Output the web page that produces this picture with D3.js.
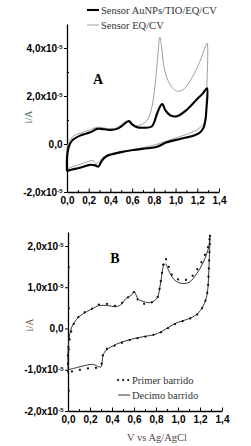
<!DOCTYPE html>
<html>
<head>
<meta charset="utf-8">
<script src="https://cdn.jsdelivr.net/npm/d3@7"></script>
<style>
  body { margin: 0; background: #fff; }
  .tick text { font-family: "Liberation Sans", Arial, sans-serif; font-weight: bold; font-size: 10px; fill: #000; }
  .serif { font-family: "Liberation Serif", "Times New Roman", serif; }
</style>
</head>
<body>
<div id="chart"></div>
<script>

// currents are in units of 1e-5 A, potentials in V vs Ag/AgCl

// panel A, Sensor AuNPs/TIO/EQ/CV
var aunpsV = [0, 0, 0.015, 0.046, 0.12, 0.215, 0.276, 0.31, 0.40, 0.46, 0.51, 0.57, 0.60, 0.645, 0.705, 0.78, 0.83, 0.865, 0.88, 0.905, 0.95, 1.01, 1.10, 1.19, 1.25, 1.29,
  1.285, 1.275, 1.26, 1.23, 1.17, 1.04, 0.92, 0.83, 0.74, 0.61, 0.49, 0.37, 0.32, 0.29, 0.26, 0.21, 0.12, 0.03, 0];
var aunpsI = [-1.13, -0.56, -0.14, 0.14, 0.35, 0.49, 0.63, 0.63, 0.59, 0.63, 0.77, 0.96, 0.82, 0.70, 0.68, 0.73, 1.27, 1.62, 1.66, 1.41, 1.2, 1.15, 1.41, 1.83, 2.1, 2.32,
  1.5, 1.0, 0.7, 0.5, 0.35, 0.21, 0.07, -0.11, -0.18, -0.25, -0.35, -0.49, -0.70, -0.94, -0.89, -0.87, -0.99, -1.08, -1.13];

// panel A, Sensor EQ/CV
var eqV = [0, 0, 0.015, 0.05, 0.12, 0.215, 0.276, 0.33, 0.40, 0.46, 0.52, 0.545, 0.58, 0.62, 0.68, 0.74, 0.78, 0.81, 0.835, 0.855, 0.87, 0.89, 0.92, 0.97, 1.02, 1.08, 1.15, 1.22, 1.27, 1.29,
  1.285, 1.275, 1.25, 1.2, 1.1, 1.0, 0.9, 0.8, 0.7, 0.6, 0.5, 0.4, 0.33, 0.3, 0.27, 0.24, 0.2, 0.12, 0.05, 0];
var eqI = [-1.05, -0.3, 0.07, 0.3, 0.45, 0.6, 0.7, 0.68, 0.62, 0.68, 0.88, 0.95, 0.85, 0.78, 0.8, 1.0, 1.5, 2.4, 3.6, 4.45, 4.1, 3.3, 2.75, 2.35, 2.2, 2.3, 2.75, 3.4, 4.0, 4.2,
  2.0, 1.1, 0.8, 0.6, 0.4, 0.25, 0.1, -0.05, -0.15, -0.25, -0.3, -0.45, -0.55, -0.72, -0.82, -0.7, -0.72, -0.85, -0.95, -1.05];

// panel B, Primer barrido
var primerV = [0, 0, 0.02, 0.05, 0.11, 0.17, 0.23, 0.27, 0.35, 0.44, 0.49, 0.52, 0.58, 0.60, 0.64, 0.69, 0.75, 0.81, 0.84, 0.87, 0.885, 0.915, 0.96, 1.02, 1.1, 1.17, 1.23, 1.28, 1.29,
  1.28, 1.265, 1.23, 1.17, 1.08, 0.99, 0.915, 0.84, 0.78, 0.66, 0.56, 0.44, 0.35, 0.32, 0.30, 0.28, 0.23, 0.15, 0.076, 0];
var primerI = [-1.05, -0.6, -0.2, 0.1, 0.32, 0.42, 0.5, 0.57, 0.6, 0.55, 0.62, 0.72, 0.8, 0.88, 0.68, 0.6, 0.62, 0.74, 1.1, 1.6, 1.7, 1.5, 1.25, 1.18, 1.2, 1.42, 1.7, 2.05, 2.3,
  1.45, 0.85, 0.55, 0.33, 0.21, 0.13, 0.02, -0.1, -0.15, -0.22, -0.28, -0.4, -0.5, -0.62, -0.9, -0.95, -0.95, -0.98, -1.02, -1.06];

// panel B, Decimo barrido
var decimoV = [0, 0, 0.015, 0.046, 0.107, 0.17, 0.23, 0.27, 0.35, 0.44, 0.49, 0.52, 0.58, 0.60, 0.64, 0.69, 0.75, 0.81, 0.84, 0.87, 0.885, 0.915, 0.96, 1.02, 1.1, 1.17, 1.23, 1.28, 1.29,
  1.28, 1.265, 1.23, 1.17, 1.08, 0.99, 0.915, 0.84, 0.78, 0.66, 0.56, 0.44, 0.35, 0.32, 0.30, 0.28, 0.23, 0.15, 0.076, 0];
var decimoI = [-1.0, -0.56, -0.15, 0.1, 0.3, 0.41, 0.49, 0.55, 0.56, 0.53, 0.6, 0.71, 0.82, 0.9, 0.71, 0.65, 0.63, 0.74, 1.08, 1.53, 1.57, 1.41, 1.2, 1.1, 1.12, 1.33, 1.61, 1.98, 2.27,
  1.41, 0.84, 0.55, 0.34, 0.22, 0.14, 0.03, -0.09, -0.15, -0.21, -0.27, -0.38, -0.52, -0.64, -0.93, -0.93, -0.87, -0.9, -0.95, -1.0];

// tick values
var xTicks = [0, 0.2, 0.4, 0.6, 0.8, 1.0, 1.2, 1.4];
var yTicksA = [-2, 0, 2, 4];
var yTicksB = [-2, -1, 0, 1, 2];

var svgWidth = 251;
var svgHeight = 446;

var svg = d3.select("#chart")
  .append("svg")
  .attr("width", svgWidth)
  .attr("height", svgHeight);

// label like "2,0x10" with a small "-5" on top, zero stays "0,0"
function sciLabel(sel) {
  sel.each(function (d) {
    var t = d3.select(this);
    t.text(null);
    if (d === 0) {
      t.text("0,0");
    } else {
      t.append("tspan").text(d.toFixed(1).replace(".", ",") + "x10");
      t.append("tspan").attr("dy", "-0.45em").style("font-size", "6px").text("-5");
    }
  });
}

function drawPanel(opts) {
  var x = d3.scaleLinear().domain([0, 1.4]).range(opts.xRange);
  var y = d3.scaleLinear().domain(opts.yDomain).range(opts.yRange);

  var g = svg.append("g");

  // minor x ticks
  g.append("g")
    .attr("transform", `translate(0, ${opts.yRange[0]})`)
    .call(d3.axisBottom(x).tickValues(d3.range(0.1, 1.4, 0.2)).tickSize(-2).tickFormat(""))
    .call(a => a.select(".domain").remove())
    .selectAll("line").attr("stroke", "#000");

  var xAxis = g.append("g")
    .attr("transform", `translate(0, ${opts.yRange[0]})`)
    .call(d3.axisBottom(x).tickValues(xTicks).tickSizeInner(-3.5).tickSizeOuter(0).tickPadding(5)
      .tickFormat(d => d.toFixed(1).replace(".", ",")));
  xAxis.select(".domain").attr("stroke-width", 1.3);

  // minor y ticks
  g.append("g")
    .attr("transform", `translate(${opts.xRange[0]}, 0)`)
    .call(d3.axisLeft(y).tickValues(opts.yMinor).tickSize(-2).tickFormat(""))
    .call(a => a.select(".domain").remove());

  var yAxis = g.append("g")
    .attr("transform", `translate(${opts.xRange[0]}, 0)`)
    .call(d3.axisLeft(y).tickValues(opts.yTicks).tickSizeInner(3).tickSizeOuter(0).tickPadding(1.5));
  yAxis.select(".domain").attr("stroke-width", 1.3);
  yAxis.selectAll(".tick text").call(sciLabel);

  // y title
  g.append("text")
    .attr("class", "serif")
    .attr("transform", `translate(${opts.yTitleX}, ${opts.yTitleY}) rotate(-90)`)
    .attr("text-anchor", "middle")
    .style("font-size", "10px")
    .attr("fill", opts.yTitleColor)
    .text("i/A");

  // panel letter
  g.append("text")
    .attr("class", "serif")
    .attr("x", opts.letterX)
    .attr("y", opts.letterY)
    .attr("text-anchor", "middle")
    .style("font-size", "14px")
    .style("font-weight", "bold")
    .text(opts.letter);

  var line = d3.line()
    .x(d => x(d[0]))
    .y(d => y(d[1]))
    .curve(d3.curveCatmullRom.alpha(0.5));

  opts.series.forEach(function (s) {
    var pts = s.v.map((v, i) => [v, s.i[i]]);
    g.append("path")
      .datum(pts)
      .attr("d", line)
      .attr("fill", "none")
      .attr("stroke", s.color)
      .attr("stroke-width", s.width)
      .attr("stroke-dasharray", s.dash || null)
      .attr("stroke-linecap", s.dash ? "round" : "butt")
      .attr("stroke-linejoin", "round");
  });

  return { x: x, y: y };
}

var seriesA = [
  { name: "Sensor EQ/CV", v: eqV, i: eqI, color: "#a0a0a0", width: 1, dash: null },
  { name: "Sensor AuNPs/TIO/EQ/CV", v: aunpsV, i: aunpsI, color: "#000", width: 2.1, dash: null }
];

var seriesB = [
  { name: "Decimo barrido", v: decimoV, i: decimoI, color: "#333", width: 1, dash: null },
  { name: "Primer barrido", v: primerV, i: primerI, color: "#111", width: 2.2, dash: "0.1 8" }
];

drawPanel({
  xRange: [67, 219], yDomain: [-2, 5], yRange: [192, 24],
  yTicks: yTicksA, yMinor: [-1, 1, 3],
  yTitleX: 32, yTitleY: 117, yTitleColor: "#3f6a66",
  letter: "A", letterX: 98, letterY: 84,
  series: seriesA
});

drawPanel({
  xRange: [68, 222], yDomain: [-2, 2.34], yRange: [411, 232],
  yTicks: yTicksB, yMinor: [-1.5, -0.5, 0.5, 1.5],
  yTitleX: 33, yTitleY: 325, yTitleColor: "#7a4c3a",
  letter: "B", letterX: 115, letterY: 263,
  series: seriesB
});

// x title, panel B only
svg.append("text")
  .attr("class", "serif")
  .attr("x", 157)
  .attr("y", 441)
  .attr("text-anchor", "middle")
  .style("font-size", "10.5px")
  .attr("fill", "#5a4a44")
  .text("V vs Ag/AgCl");

// legends
function legend(items, x0, y0, step) {
  items.forEach(function (s, k) {
    var yy = y0 + k * step;
    svg.append("line")
      .attr("x1", x0).attr("x2", x0 + 12)
      .attr("y1", yy).attr("y2", yy)
      .attr("stroke", s.color)
      .attr("stroke-width", s.width)
      .attr("stroke-dasharray", s.dash ? "0.1 5" : null)
      .attr("stroke-linecap", s.dash ? "round" : "butt");
    svg.append("text")
      .attr("class", "serif")
      .attr("x", x0 + 14)
      .attr("y", yy + 3.5)
      .style("font-size", "10.5px")
      .attr("fill", "#333")
      .text(s.name);
  });
}

legend([seriesA[1], seriesA[0]], 87, 10, 15);
legend([seriesB[1], seriesB[0]], 118, 380, 15);

</script>
</body>
</html>
